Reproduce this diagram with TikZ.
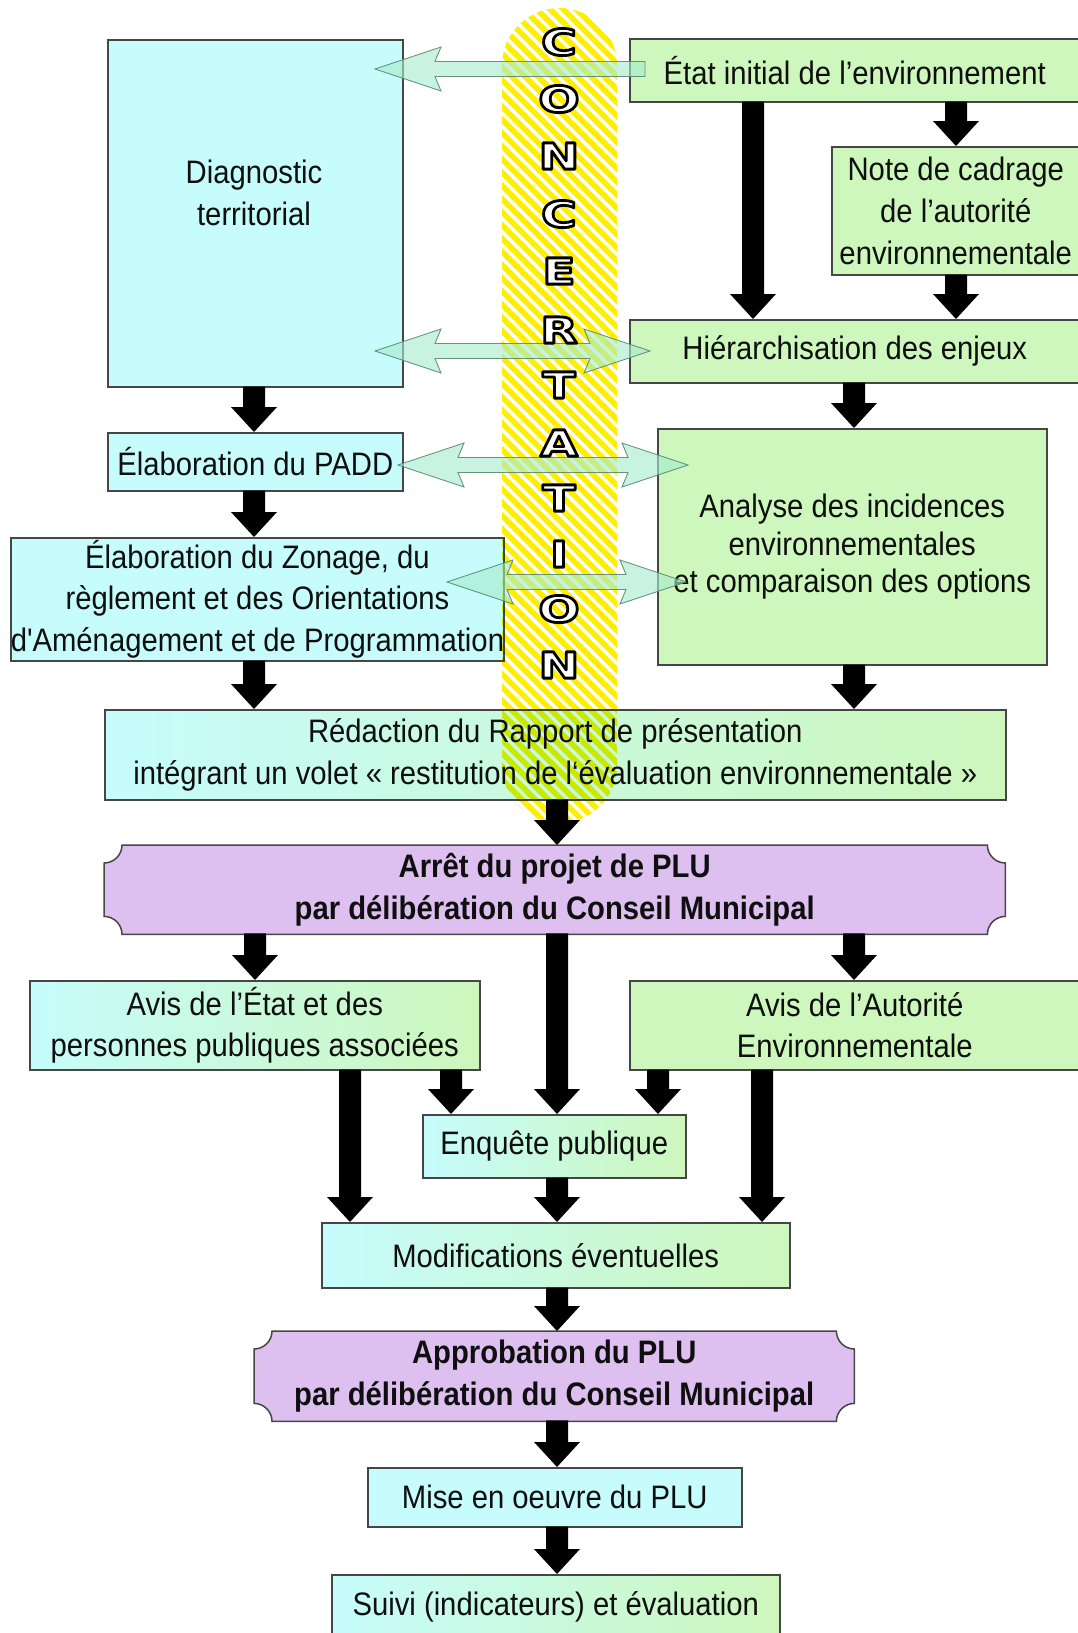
\documentclass[tikz,border=0pt]{standalone}
\usepackage{fontspec}
\setmainfont{Liberation Sans}[FakeStretch=0.9]
\newfontfamily\rawfont{Liberation Sans}[FakeStretch=0.9, Ligatures=TeXOff]
\newfontfamily\letterfont{DejaVu Sans Bold}[FakeStretch=1.35]
\usetikzlibrary{calc,backgrounds}

\definecolor{cyanfill}{RGB}{198,252,252}
\definecolor{greenfill}{RGB}{205,247,188}
\definecolor{purplefill}{RGB}{221,191,240}
\definecolor{edgegray}{RGB}{70,70,70}
\definecolor{stripeyellow}{RGB}{255,238,0}
\definecolor{hollowfill}{RGB}{165,235,205}
\definecolor{hollowedge}{RGB}{90,135,115}
\definecolor{inkblack}{RGB}{15,15,15}

\tikzset{
  box/.style={draw=edgegray, line width=1.5pt, inner sep=0pt, anchor=north west,
    align=center, text=inkblack, font=\fontsize{32.5}{41.7}\selectfont},
  cbox/.style={box, fill=cyanfill},
  gbox/.style={box, fill=greenfill},
  mbox/.style={box, left color=cyanfill, right color=greenfill},
  ptext/.style={inner sep=0pt, anchor=north west, align=center, text=inkblack,
    font=\bfseries\fontsize{32.5}{41.7}\selectfont},
  txt/.style={inner sep=0pt, align=center, text=inkblack, font=\fontsize{32.5}{41.7}\selectfont},
  hollow/.style={fill=hollowfill, fill opacity=0.62, draw=hollowedge, draw opacity=0.9, line width=0.9pt},
  pillletter/.style={inner sep=0pt, font=\letterfont\fontsize{36}{36}\selectfont}
}

% black block arrow from node #1 (bottom) to node #2 (top) at x = #3
\newcommand\flowarrow[3]{%
  \fill[black] let \p1=(#1.south), \p2=(#2.north) in
    ({#3pt-11pt},{\y1+1pt}) -- ({#3pt+11pt},{\y1+1pt}) -- ({#3pt+11pt},{\y2+25pt})
    -- ({#3pt+23pt},{\y2+25pt}) -- (#3pt,\y2) -- ({#3pt-23pt},{\y2+25pt})
    -- ({#3pt-11pt},{\y2+25pt}) -- cycle;}

% hollow double arrow between two named coordinates
\newcommand\hollowdouble[2]{%
  \filldraw[hollow] let \p1=(#1), \p2=(#2) in
    (\p1) -- ++(66pt,22pt) -- ++(-6pt,-14.5pt) -- ({\x2-60pt},{\y2+7.5pt})
    -- ++(-6pt,14.5pt) -- (\p2) -- ++(-66pt,-22pt) -- ++(6pt,14.5pt)
    -- ({\x1+60pt},{\y1-7.5pt}) -- ++(6pt,-14.5pt) -- cycle;}

% hollow single arrow (head at #1, tail at #2)
\newcommand\hollowsingle[2]{%
  \filldraw[hollow] let \p1=(#1), \p2=(#2) in
    (\p1) -- ++(66pt,22pt) -- ++(-6pt,-14.5pt) -- ({\x2},{\y2+7.5pt})
    -- ({\x2},{\y2-7.5pt}) -- ({\x1+60pt},{\y1-7.5pt}) -- ++(6pt,-14.5pt) -- cycle;}

% notched plaque outline behind a node
\newcommand\plaque[1]{%
  \begin{scope}[on background layer]
  \filldraw[fill=purplefill, draw=edgegray, line width=1.5pt]
    let \p1=(#1.north west), \p2=(#1.south east) in
    ({\x1+18pt},\y1) -- ({\x2-18pt},\y1) arc[start angle=180,end angle=270,radius=18pt]
    -- (\x2,{\y2+18pt}) arc[start angle=90,end angle=180,radius=18pt]
    -- ({\x1+18pt},\y2) arc[start angle=0,end angle=90,radius=18pt]
    -- (\x1,{\y1-18pt}) arc[start angle=270,end angle=360,radius=18pt] -- cycle;
  \end{scope}}

% outlined letter: white fill, black stroke (PDF text render mode 2)
\newcommand\outl[1]{\special{pdf:literal direct q 2 Tr 2.8 w 1 j 0 0 0 RG 1 1 1 rg}#1\special{pdf:literal direct Q}}

\begin{document}
\begin{tikzpicture}[x=1pt,y=-1pt]
\useasboundingbox (0,0) rectangle (1077,1633);

% ---------- boxes ----------
\node[cbox, minimum width=295pt, minimum height=347pt] (diag) at (107,39) {};
\node[txt] (diagtext) at (254,193) {Diagnostic\\territorial};
\node[gbox, minimum width=450pt, minimum height=63pt] (etat) at (629,38) {État initial de l’environnement};
\node[gbox, minimum width=248pt, minimum height=128pt] (note) at (831,146) {Note de cadrage\\de l’autorité\\environnementale};
\node[gbox, minimum width=450pt, minimum height=63pt] (hier) at (629,319) {Hiérarchisation des enjeux};
\node[cbox, minimum width=295pt, minimum height=58pt] (padd) at (107,432) {Élaboration du PADD};
\node[gbox, minimum width=389pt, minimum height=236pt, font=\fontsize{32.5}{37.5}\selectfont] (analyse) at (657,428) {Analyse des incidences\\environnementales\\et comparaison des options};
\node[cbox, minimum width=475pt, minimum height=123pt] (zonage) at (10,537) {Élaboration du Zonage, du\\règlement et des Orientations\\d{\rawfont'}Aménagement et de Programmation};
\node[mbox, minimum width=901pt, minimum height=90pt] (redac) at (104,709) {Rédaction du Rapport de présentation\\intégrant un volet « restitution de l‘évaluation environnementale »};
\node[ptext, minimum width=901pt, minimum height=89pt] (arret) at (104,845) {Arrêt du projet de PLU\\par délibération du Conseil Municipal};
\plaque{arret}
\node[mbox, minimum width=450pt, minimum height=89pt] (avisetat) at (29,980) {Avis de l’État et des\\personnes publiques associées};
\node[gbox, minimum width=450pt, minimum height=89pt] (avisae) at (629,980) {Avis de l’Autorité\\Environnementale};
\node[mbox, minimum width=263pt, minimum height=63pt] (enquete) at (422,1114) {Enquête publique};
\node[mbox, minimum width=468pt, minimum height=65pt] (modif) at (321,1222) {Modifications éventuelles};
\node[ptext, minimum width=600pt, minimum height=90pt] (approb) at (254,1331) {Approbation du PLU\\par délibération du Conseil Municipal};
\plaque{approb}
\node[cbox, minimum width=374pt, minimum height=59pt] (mise) at (367,1467) {Mise en oeuvre du PLU};
\node[mbox, minimum width=448pt, minimum height=64pt] (suivi) at (331,1574) {Suivi (indicateurs) et évaluation};

% ---------- concertation band ----------
\begin{scope}[blend mode=multiply]
  \clip[rounded corners=57.5pt] (502,8) rectangle (617,823);
  \foreach \k in {0,...,75} {
    \draw[stripeyellow, line width=5.6pt] (490,{-130+\k*13.2}) -- ++(140,140);
  }
\end{scope}

% ---------- hollow exchange arrows ----------
\coordinate (aL) at (375,69);   \coordinate (aR) at (645,69);
\coordinate (bL) at (375,351);  \coordinate (bR) at (650,351);
\coordinate (cL) at (398,465);  \coordinate (cR) at (688,465);
\coordinate (dL) at (447,582);  \coordinate (dR) at (686,582);
\hollowsingle{aL}{aR}
\hollowdouble{bL}{bR}
\hollowdouble{cL}{cR}
\hollowdouble{dL}{dR}

% ---------- letters ----------
\foreach \ch/\yy [count=\i] in {C/42, O/99, N/156, C/214, E/271, R/330, T/385, A/443, T/498, I/554, O/609, N/665}
  \node[pillletter] (letter\i) at (559,\yy) {\outl{\ch}};

% ---------- flow arrows ----------
\flowarrow{etat}{hier}{753}
\flowarrow{etat}{note}{956}
\flowarrow{note}{hier}{956}
\flowarrow{diag}{padd}{254}
\flowarrow{padd}{zonage}{254}
\flowarrow{hier}{analyse}{854}
\flowarrow{zonage}{redac}{254}
\flowarrow{analyse}{redac}{854}
\flowarrow{redac}{arret}{557}
\flowarrow{arret}{avisetat}{255}
\flowarrow{arret}{enquete}{557}
\flowarrow{arret}{avisae}{854}
\flowarrow{avisetat}{modif}{350}
\flowarrow{avisetat}{enquete}{451}
\flowarrow{avisae}{enquete}{658}
\flowarrow{avisae}{modif}{762}
\flowarrow{enquete}{modif}{557}
\flowarrow{modif}{approb}{557}
\flowarrow{approb}{mise}{557}
\flowarrow{mise}{suivi}{557}
\end{tikzpicture}
\end{document}
